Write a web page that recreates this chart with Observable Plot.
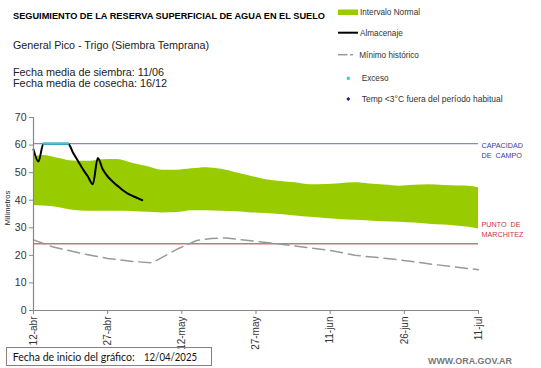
<!DOCTYPE html>
<html>
<head>
<meta charset="utf-8">
<script src="https://cdn.jsdelivr.net/npm/d3@7"></script>
<script src="https://cdn.jsdelivr.net/npm/@observablehq/plot@0.6"></script>
<style>
  html, body { margin: 0; padding: 0; background: #fff; }
  #wrap { position: relative; width: 541px; height: 368px; overflow: hidden; font-family: "Liberation Sans", Arial, sans-serif; }
  #chart { position: absolute; left: 0; top: 0; }
  #overlay { position: absolute; left: 0; top: 0; pointer-events: none; }
</style>
</head>
<body>
<div id="wrap">
  <div id="chart"></div>
  <svg id="overlay" width="541" height="368" font-family="Liberation Sans, Arial, sans-serif">
    <text x="13" y="19" font-size="9.5" font-weight="bold" fill="#000" textLength="312" lengthAdjust="spacingAndGlyphs">SEGUIMIENTO DE LA RESERVA SUPERFICIAL DE AGUA EN EL SUELO</text>
    <text x="13" y="49" font-size="11" fill="#222" textLength="196" lengthAdjust="spacingAndGlyphs">General Pico - Trigo (Siembra Temprana)</text>
    <text x="13" y="76" font-size="11" fill="#222" textLength="151" lengthAdjust="spacingAndGlyphs">Fecha media de siembra: 11/06</text>
    <text x="13" y="86.7" font-size="11" fill="#222" textLength="154" lengthAdjust="spacingAndGlyphs">Fecha media de cosecha: 16/12</text>

    <rect x="338" y="9.5" width="20" height="5.5" fill="#99cc00"></rect>
    <text x="360" y="15" font-size="8.2" fill="#333">Intervalo Normal</text>
    <line x1="338" x2="358" y1="32.7" y2="32.7" stroke="#000" stroke-width="2"></line>
    <text x="360" y="35.7" font-size="8.2" fill="#333">Almacenaje</text>
    <line x1="338" x2="347.5" y1="54.7" y2="54.7" stroke="#999" stroke-width="1.5"></line>
    <line x1="350" x2="353" y1="54.7" y2="54.7" stroke="#999" stroke-width="1.5"></line>
    <text x="359.3" y="57.7" font-size="8.2" fill="#333">Mínimo histórico</text>
    <rect x="346.8" y="76.8" width="3" height="3" fill="#33ccdd"></rect>
    <text x="361.7" y="81" font-size="8.2" fill="#333">Exceso</text>
    <path d="M348.3,97 L350.3,99 L348.3,101 L346.3,99 Z" fill="#1a1a99"></path>
    <text x="361.7" y="102" font-size="8.2" fill="#333" textLength="141" lengthAdjust="spacingAndGlyphs">Temp &lt;3°C fuera del período habitual</text>

    <text transform="translate(10,208) rotate(-90)" text-anchor="middle" font-size="7.5" fill="#222">Milímetros</text>

    <rect x="6.5" y="347.5" width="205" height="18" fill="none" stroke="#8a7f7f" stroke-width="1"></rect>
    <text x="12.7" y="360.5" font-family="Lato, sans-serif" font-size="11" fill="#111" textLength="122" lengthAdjust="spacingAndGlyphs">Fecha de inicio del gráfico:</text>
    <text x="144" y="360.5" font-family="Lato, sans-serif" font-size="11" fill="#111" textLength="53" lengthAdjust="spacingAndGlyphs">12/04/2025</text>

    <text x="428" y="363.5" font-size="9" font-weight="bold" fill="#777" textLength="84" lengthAdjust="spacingAndGlyphs">WWW.ORA.GOV.AR</text>
  </svg>
</div>
<script>
// ---- Data ----
const bandDates = ["2025-04-12","2025-04-14","2025-04-17","2025-04-20","2025-04-23","2025-04-26","2025-04-29","2025-05-02","2025-05-05","2025-05-08","2025-05-11","2025-05-14","2025-05-17","2025-05-20","2025-05-23","2025-05-26","2025-05-29","2025-06-01","2025-06-04","2025-06-07","2025-06-10","2025-06-13","2025-06-16","2025-06-19","2025-06-22","2025-06-25","2025-06-28","2025-07-01","2025-07-04","2025-07-07","2025-07-09","2025-07-11"];
const bandLow  = [38.1,37.9,37.4,36.4,36.0,36.0,36.0,35.9,35.6,35.4,35.5,36.2,36.2,36.0,35.8,35.4,35.2,34.8,34.3,33.8,33.4,33.0,32.7,32.5,32.2,32.0,31.7,31.3,31.0,30.6,30.2,29.6];
const bandHigh = [55.6,56.2,55.2,54.2,54.1,54.7,54.8,53.4,52.2,50.9,50.9,51.4,51.8,51.2,50.0,48.7,47.4,46.8,46.3,45.6,45.7,46.0,46.3,45.9,45.5,45.1,45.4,45.6,45.3,45.2,45.1,44.5];

const storageDates = ["2025-04-12","2025-04-13","2025-04-14","2025-04-15","2025-04-16","2025-04-17","2025-04-18","2025-04-19","2025-04-20","2025-04-21","2025-04-22","2025-04-23","2025-04-24","2025-04-25","2025-04-26","2025-04-27","2025-04-28","2025-04-29","2025-04-30","2025-05-01","2025-05-02","2025-05-03","2025-05-04"];
const storageValues = [58.4,54.0,60.5,60.5,60.5,60.5,60.5,60.5,57.2,54.2,51.2,48.6,45.8,55.3,51.2,48.6,46.8,45.2,43.7,42.5,41.6,40.8,40.0];

const excessDates = ["2025-04-14","2025-04-15","2025-04-16","2025-04-17","2025-04-18","2025-04-19"];
const excessValues = [60.5,60.5,60.5,60.5,60.5,60.5];

const minDates = ["2025-04-12","2025-04-16","2025-04-22","2025-04-27","2025-05-02","2025-05-06","2025-05-11","2025-05-15","2025-05-18","2025-05-21","2025-05-27","2025-06-03","2025-06-11","2025-06-16","2025-06-24","2025-07-02","2025-07-11"];
const minValues = [25.6,23.0,20.6,18.9,17.8,17.3,22.2,25.4,26.1,26.3,25.1,23.6,21.8,20.0,18.6,16.7,14.8];

const fieldCapacity = 60.5;
const wiltingPoint = 24.2;

const xTickDates = ["2025-04-12","2025-04-27","2025-05-12","2025-05-27","2025-06-11","2025-06-26","2025-07-11"];
const xTickLabels = ["12-abr","27-abr","12-may","27-may","11-jun","26-jun","11-jul"];
const yTicks = [0,10,20,30,40,50,60,70];

// ---- Build ----
const D = s => new Date(s + "T00:00:00Z");
const band = bandDates.map((d, i) => ({date: D(d), low: bandLow[i], high: bandHigh[i]}));
const storage = storageDates.map((d, i) => ({date: D(d), v: storageValues[i]}));
const excess = excessDates.map((d, i) => ({date: D(d), v: excessValues[i]}));
const minHist = minDates.map((d, i) => ({date: D(d), v: minValues[i]}));
const tickMap = new Map(xTickDates.map((d, i) => [+D(d), xTickLabels[i]]));
const x0 = D(xTickDates[0]), x1 = D(xTickDates[xTickDates.length - 1]);
const lastDate = D(bandDates[bandDates.length - 1]);

const chart = Plot.plot({
  width: 541,
  height: 368,
  marginLeft: 33,
  marginRight: 63,
  marginTop: 117,
  marginBottom: 58,
  style: {fontFamily: "Liberation Sans, Arial, sans-serif", fontSize: "10px", color: "#333", background: "transparent", overflow: "visible"},
  x: {type: "utc", domain: [x0, x1]},
  y: {domain: [0, 70]},
  marks: [
    Plot.areaY(band, {x: "date", y1: "low", y2: "high", fill: "#99cc00", curve: "monotone-x"}),
    Plot.ruleY([fieldCapacity], {stroke: "#7f8fbb", strokeWidth: 1.2}),
    Plot.ruleY([wiltingPoint], {stroke: "#c07a7a", strokeWidth: 1.5}),
    Plot.lineY(minHist, {x: "date", y: "v", stroke: "#999", strokeWidth: 1.5, strokeDasharray: "12,6"}),
    Plot.lineY(storage, {x: "date", y: "v", stroke: "#000", strokeWidth: 2, curve: "monotone-x"}),
    Plot.lineY(excess, {x: "date", y: "v", stroke: "#33ccee", strokeWidth: 2.2, strokeDasharray: "3,1.5"}),
    Plot.text([fieldCapacity], {x: lastDate, y: d => d, text: () => "CAPACIDAD\nDE  CAMPO", textAnchor: "start", lineAnchor: "top", dx: 3, dy: -2, fontSize: 7.2, lineHeight: 1.3, fill: "#3a3aa8"}),
    Plot.text([wiltingPoint], {x: lastDate, y: d => d, text: () => "PUNTO  DE\nMARCHITEZ", textAnchor: "start", lineAnchor: "bottom", dx: 3, dy: -7, fontSize: 7.2, lineHeight: 1.3, fill: "#cc3344"}),
    Plot.ruleX([x0], {stroke: "#888", strokeWidth: 1.2}),
    Plot.ruleY([0], {stroke: "#888", strokeWidth: 1.2}),
    Plot.axisY({ticks: yTicks, tickSize: 4, tickPadding: 3, fontSize: 10.5, stroke: "#888", fill: "#333", label: null}),
    Plot.axisX({ticks: xTickDates.map(D), tickFormat: d => tickMap.get(+d), tickRotate: -90, tickSize: 4, tickPadding: 2, fontSize: 10, stroke: "#888", fill: "#333", label: null})
  ]
});
document.getElementById("chart").appendChild(chart);
</script>
</body>
</html>
